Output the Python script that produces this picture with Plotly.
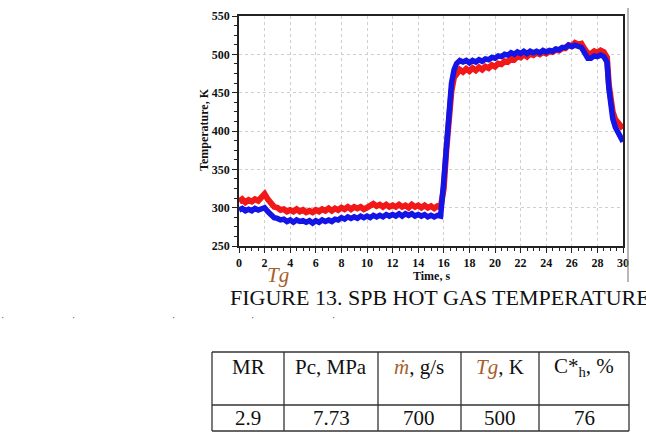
import plotly.graph_objects as go

# ---- data ----
# early phase, sampled every 0.25 s from 0 to 15.75 s
time_low = [i * 0.25 for i in range(64)]
red_low = [308, 311, 307, 310, 308, 311, 309, 313, 318, 311, 306, 301, 300, 297, 298, 295,
           297, 295, 298, 295, 297, 294, 296, 294, 297, 295, 298, 296, 299, 296, 299, 297,
           300, 298, 301, 298, 301, 299, 301, 298, 300, 302, 305, 302, 304, 301, 304, 301,
           303, 301, 304, 301, 303, 300, 304, 301, 303, 300, 303, 300, 302, 299, 302, 300]
blue_low = [297, 299, 296, 298, 296, 299, 297, 299, 300, 295, 291, 287, 286, 284, 285, 282,
            284, 281, 284, 282, 283, 281, 283, 280, 283, 281, 284, 282, 284, 282, 285, 284,
            287, 285, 288, 286, 288, 286, 289, 287, 289, 287, 290, 288, 290, 288, 291, 289,
            291, 289, 292, 289, 292, 290, 292, 289, 291, 289, 291, 288, 290, 288, 290, 289]

# rise
time_rise = [16.0, 16.2, 16.4, 16.6, 16.8]
red_rise = [325, 375, 420, 452, 470]
blue_rise = [335, 385, 430, 462, 480]

# hot phase, sampled every 0.25 s from 17 to 28.5 s
time_hot = [17 + i * 0.25 for i in range(47)]
red_hot = [476, 480, 477, 481, 478, 482, 479, 483, 480, 484, 482, 486, 484, 488, 487, 491,
           490, 494, 493, 497, 496, 500, 497, 501, 499, 502, 500, 503, 501, 504, 503, 506,
           505, 508, 508, 512, 511, 515, 513, 514, 507, 501, 501, 504, 502, 505, 503]
blue_hot = [488, 492, 490, 492, 489, 492, 490, 493, 491, 494, 493, 496, 495, 498, 497, 500,
            499, 502, 500, 503, 501, 504, 501, 504, 502, 504, 502, 505, 503, 505, 504, 507,
            506, 509, 509, 512, 510, 512, 510, 509, 502, 495, 495, 498, 497, 499, 497]

# fall
time_fall = [28.75, 28.9, 29.0, 29.2, 29.4, 29.6, 29.8, 30.0]
red_fall = [496, 460, 445, 425, 415, 410, 406, 403]
blue_fall = [490, 455, 440, 416, 405, 398, 392, 386]

time_s = time_low + time_rise + time_hot + time_fall
temp_red = red_low + red_rise + red_hot + red_fall
temp_blue = blue_low + blue_rise + blue_hot + blue_fall

x_ticks = list(range(0, 31, 2))
y_ticks = list(range(250, 551, 50))

table_header = ["MR", "Pc, MPa",
                "<i><span style='color:#a8602a'>ṁ</span></i>, g/s",
                "<i><span style='color:#a8602a'>Tg</span></i>, K",
                "C*<sub>h</sub>, %"]
table_values = ["2.9", "7.73", "700", "500", "76"]

W, H = 646, 438
def px(x):
    return x / W
def py(y):
    return 1 - y / H

fig = go.Figure()
fig.add_trace(go.Scatter(x=time_s, y=temp_red, mode="lines",
                         line=dict(color="#f21818", width=6), showlegend=False))
fig.add_trace(go.Scatter(x=time_s, y=temp_blue, mode="lines",
                         line=dict(color="#1414e6", width=5.5), showlegend=False))

tickfont = dict(family="Liberation Serif", size=12, color="#111", weight="bold")
fig.update_layout(
    width=W, height=H, margin=dict(l=0, r=0, t=0, b=0, autoexpand=False),
    paper_bgcolor="white", plot_bgcolor="white",
    xaxis=dict(domain=[px(239), px(623)], range=[0, 30], tickvals=x_ticks,
               ticktext=[str(v) for v in x_ticks], showgrid=True, gridcolor="#cfcfcf",
               griddash="dot", gridwidth=1, zeroline=False, showline=True, linecolor="#222",
               linewidth=1.5, mirror=True, ticks="outside", ticklen=5, tickcolor="#222",
               minor=dict(dtick=0.5, ticks="outside", ticklen=3, tickcolor="#222", showgrid=False),
               tickfont=tickfont),
    yaxis=dict(domain=[py(246), py(16)], range=[250, 550], tickvals=y_ticks,
               ticktext=[str(v) for v in y_ticks], showgrid=True, gridcolor="#cfcfcf",
               griddash="dot", gridwidth=1, zeroline=False, showline=True, linecolor="#222",
               linewidth=1.5, mirror=True, ticks="outside", ticklen=5, tickcolor="#222",
               minor=dict(dtick=12.5, ticks="outside", ticklen=3, tickcolor="#222", showgrid=False),
               tickfont=tickfont),
)

def note(x, y, text, size, color="#111", xanchor="center", angle=0, weight="normal"):
    return dict(x=px(x), y=py(y), text=text, showarrow=False, xref="paper", yref="paper",
                xanchor=xanchor, yanchor="middle", textangle=angle,
                font=dict(family="Liberation Serif", size=size, color=color, weight=weight))

ann = []
ann.append(note(204, 130, "Temperature, K", 12, angle=-90, weight="bold"))
ann.append(note(431, 276, "Time, s", 12, weight="bold"))
ann.append(note(278, 275, "<i>Tg</i>", 21, color="#a8602a"))
ann.append(note(228, 297, "FIGURE 13. SPB HOT GAS TEMPERATURE", 22, xanchor="left"))
for dx in [2, 73, 173, 252, 333]:
    ann.append(note(dx, 317, "·", 10, color="#444"))

col_edges = [212, 284, 378, 461, 539, 629]
for i in range(5):
    cx = (col_edges[i] + col_edges[i + 1]) / 2
    ann.append(note(cx, 367, table_header[i], 21))
    ann.append(note(cx, 418, table_values[i], 21))

shapes = []
lc = dict(color="#333", width=1.3)
for yy in [352, 405, 431]:
    shapes.append(dict(type="line", xref="paper", yref="paper", x0=px(212), x1=px(629),
                       y0=py(yy), y1=py(yy), line=lc))
for xx in col_edges:
    shapes.append(dict(type="line", xref="paper", yref="paper", x0=px(xx), x1=px(xx),
                       y0=py(352), y1=py(431), line=lc))
shapes.append(dict(type="line", xref="paper", yref="paper", x0=px(628), x1=px(628),
                   y0=py(8), y1=py(282), line=dict(color="#888", width=1.2)))

fig.update_layout(annotations=ann, shapes=shapes)
fig.write_html("out.html")
